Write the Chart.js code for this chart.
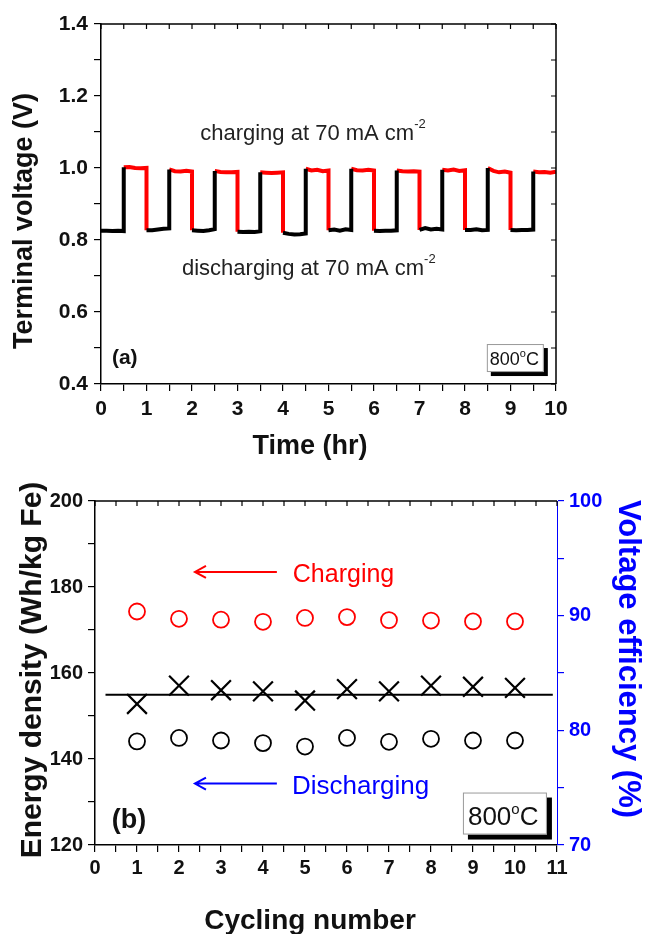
<!DOCTYPE html>
<html>
<head>
<meta charset="utf-8">
<script src="https://cdn.jsdelivr.net/npm/chart.js@4.4.1/dist/chart.umd.min.js"></script>
<style>
  html, body { margin: 0; padding: 0; background: #fff; }
  #wrap { position: relative; width: 645px; height: 934px; }
  canvas { position: absolute; left: 0; }
  #cA { top: 0; }
  #cB { top: 465px; }
</style>
</head>
<body>
<div id="wrap">
  <canvas id="cA" width="645" height="465"></canvas>
  <canvas id="cB" width="645" height="469"></canvas>
</div>
<script>
// ── (a) terminal voltage, half-hour steps ─────────────
const halfHourEdges = [0, 0.5, 1, 1.5, 2, 2.5, 3, 3.5, 4, 4.5, 5, 5.5, 6, 6.5, 7, 7.5, 8, 8.5, 9, 9.5, 10];

// five readings across each discharge step (V)
const dischargeV = [
  [0.826, 0.826, 0.825, 0.826, 0.825],
  [0.827, 0.827, 0.829, 0.831, 0.832],
  [0.827, 0.826, 0.825, 0.827, 0.830],
  [0.823, 0.822, 0.823, 0.822, 0.824],
  [0.820, 0.817, 0.815, 0.816, 0.818],
  [0.827, 0.829, 0.826, 0.830, 0.828],
  [0.826, 0.825, 0.826, 0.826, 0.827],
  [0.828, 0.833, 0.829, 0.831, 0.829],
  [0.828, 0.828, 0.830, 0.827, 0.828],
  [0.828, 0.827, 0.828, 0.828, 0.829],
];

// five readings across each charge step (V)
const chargeV = [
  [1.002, 1.003, 1.000, 0.999, 1.000],
  [0.996, 0.991, 0.990, 0.992, 0.990],
  [0.992, 0.989, 0.988, 0.988, 0.989],
  [0.988, 0.987, 0.986, 0.987, 0.988],
  [0.998, 0.993, 0.995, 0.991, 0.993],
  [0.998, 0.994, 0.993, 0.995, 0.993],
  [0.993, 0.991, 0.990, 0.991, 0.990],
  [0.995, 0.993, 0.996, 0.992, 0.994],
  [1.000, 0.992, 0.988, 0.990, 0.987],
  [0.990, 0.988, 0.989, 0.987, 0.990],
];

// ── (b) per-cycle results ─────────────────────────────
const cycles          = [1, 2, 3, 4, 5, 6, 7, 8, 9, 10];
const chargeEnergy    = [174.3, 172.6, 172.4, 171.9, 172.8, 173.0, 172.3, 172.2, 172.0, 172.0];
const dischargeEnergy = [144.1, 144.9, 144.3, 143.7, 142.9, 144.9, 144.0, 144.7, 144.3, 144.3];
const voltEfficiency  = [82.3, 83.9, 83.5, 83.4, 82.6, 83.6, 83.4, 83.9, 83.8, 83.7];
const effLineX        = [0.25, 10.9];
const effLineY        = [83.1, 83.1];

const FONT  = "'Liberation Sans', Arial, sans-serif";
const RED   = '#ff0000';
const BLUE  = '#0000ff';
Chart.defaults.font.family = FONT;

// ── build step series ─────────────────────────────────
function segPoints(t0, t1, vals) {
  const n = vals.length - 1;
  return vals.map((v, i) => ({ x: t0 + (t1 - t0) * i / n, y: v }));
}

const blackPts = [];
const redPts   = [];
for (let i = 0; i < dischargeV.length; i++) {
  const d0 = halfHourEdges[2 * i];
  const d1 = halfHourEdges[2 * i + 1];
  const c1 = halfHourEdges[2 * i + 2];
  blackPts.push(...segPoints(d0, d1, dischargeV[i]));
  blackPts.push({ x: d1, y: chargeV[i][0] });          // rising edge
  blackPts.push({ x: d1, y: null });
  redPts.push(...segPoints(d1, c1, chargeV[i]));
  if (i < dischargeV.length - 1) redPts.push({ x: c1, y: dischargeV[i + 1][0] }); // falling edge
  redPts.push({ x: c1, y: null });
}

// ── helpers ───────────────────────────────────────────
function text(ctx, s, x, y, size, opts = {}) {
  ctx.save();
  ctx.font = `${opts.bold ? 'bold ' : ''}${size}px ${FONT}`;
  ctx.fillStyle = opts.color || '#111';
  ctx.textAlign = opts.align || 'left';
  ctx.textBaseline = 'alphabetic';
  ctx.translate(x, y);
  if (opts.rot) ctx.rotate(opts.rot);
  ctx.fillText(s, 0, 0);
  const w = ctx.measureText(s).width;
  ctx.restore();
  return w;
}

// text followed by a raised small suffix
function textSup(ctx, s, sup, tail, x, y, size, supSize, rise, color) {
  let w = text(ctx, s, x, y, size, { color });
  w += text(ctx, sup, x + w, y - rise, supSize, { color });
  if (tail) text(ctx, tail, x + w, y, size, { color });
}

function arrowLeft(ctx, xs, ys, fromX, toX, atY, color) {
  const x1 = xs.getPixelForValue(fromX);
  const x2 = xs.getPixelForValue(toX);
  const y  = ys.getPixelForValue(atY);
  ctx.save();
  ctx.strokeStyle = color;
  ctx.lineWidth = 2;
  ctx.beginPath();
  ctx.moveTo(x1, y); ctx.lineTo(x2, y);
  ctx.moveTo(x2 + 11, y - 6); ctx.lineTo(x2, y); ctx.lineTo(x2 + 11, y + 6);
  ctx.stroke();
  ctx.restore();
}

function tempBox(ctx, x, y, w, h, shadow, size, supSize, rise, padX, baseOff) {
  ctx.save();
  ctx.fillStyle = '#000';
  ctx.fillRect(x + shadow, y + shadow, w, h);
  ctx.fillStyle = '#fff';
  ctx.fillRect(x, y, w, h);
  ctx.strokeStyle = '#999';
  ctx.lineWidth = 1;
  ctx.strokeRect(x + 0.5, y + 0.5, w - 1, h - 1);
  ctx.restore();
  textSup(ctx, '800', 'o', 'C', x + padX, y + baseOff, size, supSize, rise, '#111');
}

// box top / right edge with inward ticks
const framePlugin = {
  id: 'frame',
  afterDraw(chart, args, opts) {
    const { ctx, chartArea: a, scales } = chart;
    ctx.save();
    ctx.strokeStyle = '#000';
    ctx.lineWidth = 1.5;
    ctx.beginPath();
    ctx.moveTo(a.left, a.top); ctx.lineTo(a.right, a.top);
    if (opts.right) { ctx.moveTo(a.right, a.top); ctx.lineTo(a.right, a.bottom); }
    ctx.stroke();
    ctx.lineWidth = 1.2;
    ctx.beginPath();
    scales.x.ticks.forEach(t => {
      const p = scales.x.getPixelForValue(t.value);
      ctx.moveTo(p, a.top); ctx.lineTo(p, a.top + 5);
    });
    if (opts.right) {
      scales.y.ticks.forEach(t => {
        const p = scales.y.getPixelForValue(t.value);
        ctx.moveTo(a.right, p); ctx.lineTo(a.right - 5, p);
      });
    }
    ctx.stroke();
    ctx.restore();
  },
};

function axisStyle(color, size) {
  return {
    grid:   { drawOnChartArea: false, drawTicks: true, tickLength: 7, color, lineWidth: 1.2 },
    border: { display: true, color, width: 1.5 },
    ticks:  { color: color === '#000' ? '#111' : color, font: { size, weight: 'bold' }, autoSkip: false, maxRotation: 0, maxTicksLimit: 100 },
  };
}

// ─────────────────────────────────────────────
//  (a) Terminal voltage vs time
// ─────────────────────────────────────────────
const ax = axisStyle('#000', 21);
const ay = axisStyle('#000', 21);

new Chart(document.getElementById('cA'), {
  type: 'line',
  data: {
    datasets: [
      { data: blackPts, borderColor: '#000', borderWidth: 4, pointRadius: 0, tension: 0, spanGaps: false },
      { data: redPts,   borderColor: RED,    borderWidth: 4, pointRadius: 0, tension: 0, spanGaps: false },
    ],
  },
  options: {
    responsive: false,
    animation: false,
    events: [],
    layout: { autoPadding: false, padding: { top: 24, right: 89, left: 0, bottom: 0 } },
    plugins: { legend: { display: false }, tooltip: { enabled: false }, frame: { right: true } },
    scales: {
      x: {
        type: 'linear', min: 0, max: 10,
        ...ax,
        ticks: { ...ax.ticks, stepSize: 0.5, padding: 6, callback: v => Number.isInteger(v) ? String(v) : '' },
        afterFit: s => { s.height = 81; },
      },
      y: {
        type: 'linear', min: 0.4, max: 1.4,
        ...ay,
        ticks: { ...ay.ticks, stepSize: 0.1, padding: 6, callback: v => Math.round(v * 10) % 2 === 0 ? v.toFixed(1) : '' },
        afterFit: s => { s.width = 101; },
      },
    },
  },
  plugins: [framePlugin, {
    id: 'notesA',
    afterDraw(chart) {
      const { ctx, scales: { x, y } } = chart;
      text(ctx, 'Terminal voltage (V)', 32, 221, 27, { bold: true, align: 'center', rot: -Math.PI / 2 });
      text(ctx, 'Time (hr)', 310, 454, 27, { bold: true, align: 'center' });
      textSup(ctx, 'charging at 70 mA cm', '-2', '', x.getPixelForValue(2.18), y.getPixelForValue(1.078), 22, 13, 12, '#222');
      textSup(ctx, 'discharging at 70 mA cm', '-2', '', x.getPixelForValue(1.78), y.getPixelForValue(0.703), 22, 13, 12, '#222');
      text(ctx, '(a)', x.getPixelForValue(0.24), y.getPixelForValue(0.456), 21, { bold: true });
      tempBox(ctx, x.getPixelForValue(8.48), y.getPixelForValue(0.511), 57, 28, 4, 18, 11, 8, 3, 21);
    },
  }],
});

// ─────────────────────────────────────────────
//  (b) Energy density & voltage efficiency
// ─────────────────────────────────────────────
const bx  = axisStyle('#000', 20);
const by  = axisStyle('#000', 20);
const by2 = axisStyle(BLUE, 20);
by2.border.width = 1;

new Chart(document.getElementById('cB'), {
  type: 'line',
  data: {
    datasets: [
      {
        data: cycles.map((c, i) => ({ x: c, y: chargeEnergy[i] })),
        yAxisID: 'y', showLine: false, pointStyle: 'circle', pointRadius: 8,
        pointBorderColor: RED, pointBackgroundColor: 'rgba(0,0,0,0)', pointBorderWidth: 1.8,
      },
      {
        data: cycles.map((c, i) => ({ x: c, y: dischargeEnergy[i] })),
        yAxisID: 'y', showLine: false, pointStyle: 'circle', pointRadius: 8,
        pointBorderColor: '#000', pointBackgroundColor: 'rgba(0,0,0,0)', pointBorderWidth: 1.8,
      },
      {
        data: cycles.map((c, i) => ({ x: c, y: voltEfficiency[i] })),
        yAxisID: 'y2', showLine: false, pointStyle: 'crossRot', pointRadius: 14,
        pointBorderColor: '#000', pointBorderWidth: 2.2,
      },
      {
        data: effLineX.map((v, i) => ({ x: v, y: effLineY[i] })),
        yAxisID: 'y2', borderColor: '#000', borderWidth: 2, pointRadius: 0, tension: 0,
      },
    ],
  },
  options: {
    responsive: false,
    animation: false,
    events: [],
    layout: { autoPadding: false, padding: { top: 36, right: 0, left: 0, bottom: 0 } },
    plugins: { legend: { display: false }, tooltip: { enabled: false }, frame: { right: false } },
    scales: {
      x: {
        type: 'linear', min: 0, max: 11,
        ...bx,
        ticks: { ...bx.ticks, stepSize: 0.5, padding: 4, callback: v => Number.isInteger(v) ? String(v) : '' },
        afterFit: s => { s.height = 89; },
      },
      y: {
        type: 'linear', position: 'left', min: 120, max: 200,
        ...by,
        ticks: { ...by.ticks, stepSize: 10, padding: 5, callback: v => v % 20 === 0 ? String(v) : '' },
        afterFit: s => { s.width = 95; },
      },
      y2: {
        type: 'linear', position: 'right', min: 70, max: 100,
        ...by2,
        ticks: { ...by2.ticks, stepSize: 5, padding: 5, callback: v => v % 10 === 0 ? String(v) : '' },
        afterFit: s => { s.width = 88; },
      },
    },
  },
  plugins: [framePlugin, {
    id: 'notesB',
    afterDraw(chart) {
      const { ctx, scales: { x, y } } = chart;
      text(ctx, 'Energy density (Wh/kg Fe)', 41, 205, 30, { bold: true, align: 'center', rot: -Math.PI / 2 });
      text(ctx, 'Voltage efficiency (%)', 619, 194, 31, { bold: true, align: 'center', rot: Math.PI / 2, color: BLUE });
      text(ctx, 'Cycling number', 310, 464, 28, { bold: true, align: 'center' });
      arrowLeft(ctx, x, y, 4.33, 2.38, 183.5, RED);
      text(ctx, 'Charging', x.getPixelForValue(4.71), y.getPixelForValue(181.1), 25, { color: RED });
      arrowLeft(ctx, x, y, 4.33, 2.38, 134.3, BLUE);
      text(ctx, 'Discharging', x.getPixelForValue(4.69), y.getPixelForValue(131.9), 26, { color: BLUE });
      text(ctx, '(b)', x.getPixelForValue(0.40), y.getPixelForValue(124.0), 27, { bold: true });
      tempBox(ctx, x.getPixelForValue(8.76), y.getPixelForValue(132.2), 84, 42, 5, 26, 15, 11, 5, 32);
    },
  }],
});
</script>
</body>
</html>
